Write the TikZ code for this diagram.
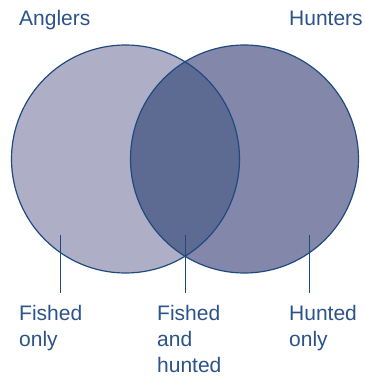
\documentclass[tikz,border=0pt]{standalone}
\usepackage{fontspec}
\setmainfont{Liberation Sans}
\usepackage{tikz}
\usetikzlibrary{positioning}
\definecolor{rim}{HTML}{1F4A80}
\definecolor{txtblue}{HTML}{2B5389}
\definecolor{anglfill}{HTML}{AEAFC7}
\definecolor{huntfill}{HTML}{8388AB}
\definecolor{bothfill}{HTML}{5D6A92}

\begin{document}
\begin{tikzpicture}[
  x=1pt, y=-1pt,
  setcircle/.style={circle, minimum size=228pt, inner sep=0pt},
  setname/.style={font=\fontsize{21}{25}\selectfont, text=txtblue, inner sep=0pt, anchor=base west},
  region/.style={font=\fontsize{21}{26}\selectfont, text=txtblue, inner sep=0pt,
    anchor=north west, align=left},
  leader/.style={draw=rim, line width=0.8pt},
]
  \useasboundingbox (0,0) rectangle (364,377);

  % the two sets
  \node[setcircle, fill=anglfill] (angl) at (125.5,159) {};
  \node[setcircle, fill=huntfill] (hunt) at (244.5,159) {};
  \begin{scope}
    \clip (125.5,159) circle (114);
    \fill[bothfill] (244.5,159) circle (114);
  \end{scope}
  \draw[rim, line width=1.2pt] (angl.center) circle (114);
  \draw[rim, line width=1.2pt] (hunt.center) circle (114);

  \node[setname] (anglname) at (19,26) {Anglers};
  \node[setname] (huntname) at (289,26) {Hunters};

  % regions
  \node[region] (fonly) at (19,305) {Fished\\only};
  \node[region] (fboth) at (157,305) {Fished\\and\\hunted};
  \node[region] (honly) at (289,305) {Hunted\\only};

  \coordinate (pf) at (60.7,235);
  \coordinate (pb) at (185.3,235);
  \coordinate (ph) at (309.7,235);
  \draw[leader] (pf) -- ([yshift=12pt]pf |- fonly.north);
  \draw[leader] (pb) -- ([yshift=12pt]pb |- fboth.north);
  \draw[leader] (ph) -- ([yshift=12pt]ph |- honly.north);
\end{tikzpicture}
\end{document}
